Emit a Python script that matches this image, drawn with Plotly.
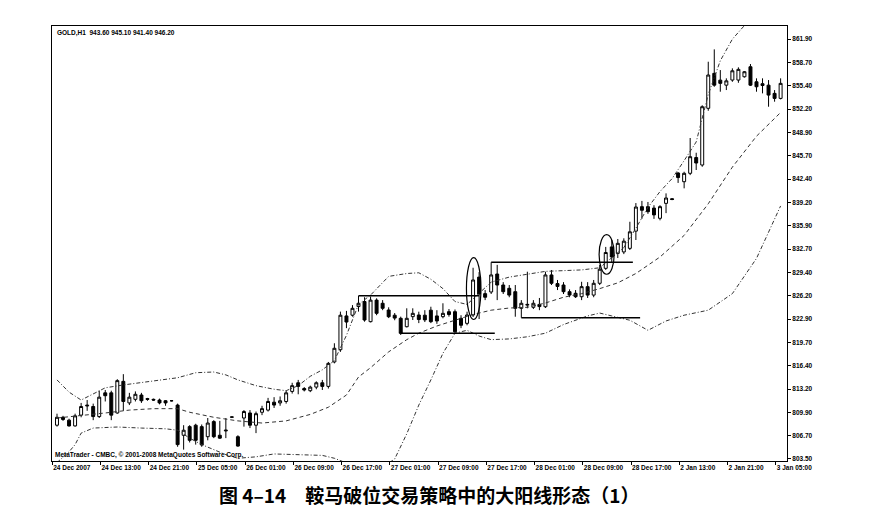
import plotly.graph_objects as go

# ---------------- data ----------------
bars = list(range(121))
opens = [808.2,809.3,808.9,808.1,809.6,811.0,810.8,809.4,812.7,812.7,809.9,814.3,811.3,811.8,812.4,811.9,811.8,811.7,811.6,811.6,
         811.0,806.8,808.0,808.2,808.0,806.6,808.7,806.8,807.4,809.3,806.6,809.2,809.9,808.2,810.0,810.3,811.4,811.3,811.5,812.9,
         814.1,813.3,813.0,813.5,814.1,813.6,817.0,818.7,823.4,823.5,824.7,825.4,822.6,825.6,825.16,824.22,823.5,823.07,821.9,823.3,
         823.53,823.5,824.2,823.4,823.3,823.99,823.99,823.07,822.37,823.53,828.8,826.5,826.73,829.23,827.7,827.24,826.77,824.46,824.9,824.6,
         825.0,824.68,829.1,827.9,827.7,826.77,826.55,826.07,827.47,826.3,827.94,830.02,833.0,832.1,832.3,832.8,835.2,838.6,838.6,838.4,
         836.98,839.06,839.7,843.28,842.07,843.24,845.43,844.39,852.28,857.14,856.2,855.5,856.21,856.21,856.67,858.06,855.97,855.7,855.5,854.36,
         853.66]
highs = [809.8,809.5,809.1,809.8,811.3,811.7,811.2,813.0,813.1,813.0,814.6,815.3,812.7,812.9,812.7,812.0,811.9,811.9,811.7,811.7,
         811.2,808.2,808.2,808.4,808.3,809.2,808.9,808.8,809.2,809.4,806.8,810.3,810.3,810.1,810.9,812.0,812.1,812.2,813.0,814.1,
         814.5,813.5,813.7,814.3,814.5,817.0,819.6,824.0,824.1,824.9,826.2,826.0,826.1,825.85,825.6,824.6,823.8,823.3,824.46,824.46,
         823.99,824.2,824.68,824.2,825.16,824.36,824.3,823.5,823.99,830.1,829.5,827.0,830.86,830.5,828.1,827.7,827.7,825.6,829.55,825.6,
         825.9,829.55,829.79,828.4,828.1,827.1,827.0,828.15,828.1,828.4,830.5,833.0,833.96,834.1,834.2,836.5,839.1,839.4,839.25,838.8,
         838.8,840.45,839.8,843.4,843.46,848.15,846.1,852.7,858.76,860.48,857.6,856.45,857.84,857.98,857.47,858.44,856.45,856.45,856.21,854.82,
         856.45]
lows = [808.0,808.8,808.0,808.0,809.3,810.2,808.9,809.2,811.5,808.9,809.8,810.2,811.0,811.5,811.3,811.6,811.6,811.1,810.9,811.5,
        805.2,804.8,805.8,805.5,805.2,806.1,806.4,806.3,806.4,809.2,805.2,808.0,807.8,807.1,809.6,810.1,810.6,810.9,811.2,812.6,
        812.5,812.9,812.8,813.2,813.1,813.3,816.8,818.4,821.7,823.3,824.0,822.6,822.5,823.5,824.2,823.1,822.8,820.75,821.8,822.83,
        822.4,822.55,822.4,822.3,823.07,823.3,821.0,821.7,822.1,823.25,822.97,825.6,826.45,825.6,826.45,826.0,823.29,823.15,824.46,824.36,
        824.2,824.5,827.7,827.0,826.45,826.0,825.9,825.6,825.9,826.0,827.7,829.8,830.76,831.46,832.0,832.57,833.96,836.9,837.6,836.9,
        836.7,837.7,839.5,841.9,841.15,842.99,843.7,844.15,851.94,855.28,854.59,854.82,855.97,855.83,856.55,855.38,854.59,854.36,852.5,853.2,
        853.52]
closes = [809.3,809.0,808.1,809.5,810.8,810.9,809.4,812.1,812.3,809.6,814.4,811.5,812.1,812.5,811.6,811.8,811.7,811.3,811.3,811.6,
          805.5,807.5,806.1,806.1,805.45,808.5,806.6,806.4,807.5,809.35,805.3,810.1,808.2,809.8,810.5,811.5,811.0,811.6,812.7,813.7,
          813.6,813.1,813.5,814.1,813.6,816.8,818.9,823.5,822.55,824.46,825.16,822.83,825.6,823.76,824.46,823.29,823.1,820.98,823.07,823.76,
          822.9,822.85,822.6,822.7,823.76,823.6,821.2,822.1,823.53,828.4,826.45,826.0,829.1,827.7,826.77,826.3,824.46,825.16,825.0,825.16,
          824.7,829.1,827.94,827.5,826.77,826.3,826.07,827.47,826.3,827.94,829.9,832.22,831.6,833.5,833.8,835.1,838.55,838.1,837.9,837.45,
          838.6,839.8,839.6,842.65,843.24,845.55,844.67,852.5,856.91,855.5,855.75,856.1,857.5,857.7,857.37,855.5,855.28,855.45,854.12,853.66,
          855.75]

# Bollinger bands read at sample bars
upper_idx = [0,2,4,6,8,11,14,17,20,23,26,28,30,33,36,38,40,42,44,46,48,50,52,55,58,60,62,64,66,68,69,70,72,75,78,81,84,87,90,92,94,96,98,100,102,104,106,107,108,110,112,114,116]
upper_val = [814.5,812.8,811.7,812.5,813.4,813.8,814.1,814.4,814.8,815.5,815.6,815.2,814.5,813.7,813.2,813.0,813.7,815.0,815.9,817.2,820.7,825.0,826.3,828.9,829.3,829.4,828.5,827.2,825.4,825.0,825.8,826.6,828.1,828.8,829.2,829.6,829.7,829.8,830.1,831.5,832.9,835.6,838.5,840.7,842.5,845.0,847.6,850.9,854.2,858.9,861.9,863.8,864.4]
middle_idx = [0,4,8,12,16,20,22,26,30,34,38,42,45,48,50,52,55,58,60,63,66,69,72,75,78,81,84,87,90,93,96,100,104,108,112,116,120]
middle_val = [809.2,809.5,809.9,810.3,810.5,810.5,810.0,809.3,808.8,808.5,808.8,809.7,810.7,812.4,814.9,816.2,818.4,820.1,821.0,822.0,822.8,823.6,824.2,824.5,824.6,825.2,826.0,826.5,827.2,828.0,829.3,831.6,834.6,839.0,844.1,848.4,851.7]
lower_idx = [0,2,3,4,6,10,14,18,20,22,24,26,28,30,33,36,40,44,46,48,50,53,56,58,60,62,64,66,68,70,72,75,78,81,84,88,90,92,95,98,101,104,108,112,116,120]
lower_val = [803.0,804.5,805.5,807.1,807.8,807.95,807.8,807.7,807.5,806.4,805.5,804.8,804.1,803.6,803.8,804.2,804.1,804.0,803.6,803.0,802.3,801.8,803.5,807.0,811.0,814.5,818.2,821.0,821.4,820.6,820.1,820.2,820.5,821.0,822.2,823.4,823.8,823.4,822.8,821.4,822.7,823.5,824.2,826.5,831.4,838.7]

# horizontal box lines (start bar, end bar, level)
line_start = [50, 57, 72, 77]
line_end = [70, 72.6, 95.5, 96.7]
line_level = [826.2, 821.0, 830.86, 823.15]

# ellipses (bar range, price range)
ell_x0 = [67.9, 89.9]
ell_x1 = [70.3, 92.4]
ell_y0 = [822.9, 829.2]
ell_y1 = [831.5, 834.7]

# axis labels
price_ticks = [803.50,806.74,809.99,813.23,816.48,819.72,822.97,826.21,829.46,832.70,835.94,839.19,842.43,845.68,848.92,852.17,855.41,858.66,861.90]
price_labels = ["803.50","806.70","809.90","813.20","816.40","819.70","822.90","826.20","829.40","832.70",
                "835.90","839.20","842.40","845.70","848.90","852.20","855.40","858.70","861.90"]
date_labels = ["24 Dec 2007","24 Dec 13:00","24 Dec 21:00","25 Dec 05:00","26 Dec 01:00","26 Dec 09:00",
               "26 Dec 17:00","27 Dec 01:00","27 Dec 09:00","27 Dec 17:00","28 Dec 01:00","28 Dec 09:00",
               "28 Dec 17:00","2 Jan 13:00","2 Jan 21:00","3 Jan 05:00"]
date_ticks = [8 * k - 0.8 for k in range(len(date_labels))]

header_text = "GOLD,H1  943.60 945.10 941.40 946.20"
footer_text = "MetaTrader - CMBC, © 2001-2008 MetaQuotes Software Corp."
caption_text = "图 4–14　鞍马破位交易策略中的大阳线形态（1）"

# ---------------- figure ----------------
fig = go.Figure()

band_style = dict(color="#333333", width=1)
fig.add_trace(go.Scatter(x=upper_idx, y=upper_val, mode="lines",
                         line=dict(**band_style, dash="4px,2px,1px,2px"), showlegend=False, hoverinfo="skip"))
fig.add_trace(go.Scatter(x=middle_idx, y=middle_val, mode="lines",
                         line=dict(**band_style, dash="4px,3px"), showlegend=False, hoverinfo="skip"))
fig.add_trace(go.Scatter(x=lower_idx, y=lower_val, mode="lines",
                         line=dict(**band_style, dash="4px,2px,1px,2px"), showlegend=False, hoverinfo="skip"))

for s, e, lv in zip(line_start, line_end, line_level):
    fig.add_trace(go.Scatter(x=[s, e], y=[lv, lv], mode="lines",
                             line=dict(color="black", width=1.6), showlegend=False, hoverinfo="skip"))

fig.add_trace(go.Candlestick(
    x=bars, open=opens, high=highs, low=lows, close=closes,
    increasing=dict(line=dict(color="black", width=1), fillcolor="white"),
    decreasing=dict(line=dict(color="black", width=1), fillcolor="black"),
    whiskerwidth=0, showlegend=False, hoverinfo="skip"))

for x0, x1, y0, y1 in zip(ell_x0, ell_x1, ell_y0, ell_y1):
    fig.add_shape(type="circle", xref="x", yref="y", x0=x0, x1=x1, y0=y0, y1=y1,
                  line=dict(color="black", width=1.2), fillcolor="rgba(0,0,0,0)")

tick_font = dict(family="Liberation Sans", size=6.5, color="black", weight="bold")

# page body has an 8px margin, so the figure is 8px smaller and margins are shifted
fig.update_layout(
    width=884, height=522,
    margin=dict(l=44, r=105, t=18, b=69),
    paper_bgcolor="white", plot_bgcolor="white",
    showlegend=False,
    xaxis=dict(range=[-0.83, 121.06], showgrid=False, zeroline=False,
               showline=True, linecolor="black", linewidth=1, mirror=True,
               tickmode="array", tickvals=date_ticks, ticktext=date_labels,
               ticks="outside", ticklen=3, tickcolor="black", tickangle=0,
               ticklabelposition="outside right", tickfont=tick_font,
               rangeslider=dict(visible=False)),
    yaxis=dict(range=[803.22, 863.73], side="right", showgrid=False, zeroline=False,
               showline=True, linecolor="black", linewidth=1, mirror=True,
               tickmode="array", tickvals=price_ticks, ticktext=price_labels,
               ticks="outside", ticklen=3, tickcolor="black", tickfont=tick_font),
)

fig.add_annotation(text=header_text, xref="paper", yref="paper", x=0.004, y=0.984,
                   xanchor="left", yanchor="middle", showarrow=False,
                   font=dict(family="Liberation Sans", size=6.5, color="black", weight="bold"))
fig.add_annotation(text=footer_text, xref="paper", yref="paper", x=0.002, y=0.014,
                   xanchor="left", yanchor="middle", showarrow=False,
                   font=dict(family="Liberation Sans", size=6.5, color="black", weight="bold"))
fig.add_annotation(text=caption_text, xref="paper", yref="paper", x=0.514, y=-0.078,
                   xanchor="center", yanchor="middle", showarrow=False,
                   font=dict(family="Noto Sans CJK SC", size=19, color="black", weight="bold"))

fig.write_html("out.html")
